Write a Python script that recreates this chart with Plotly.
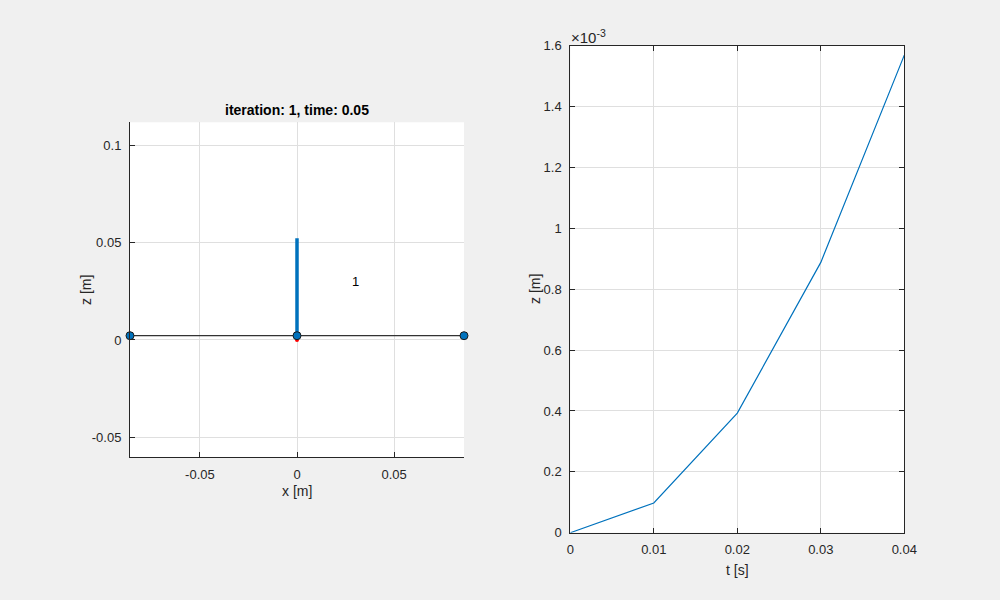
import plotly.graph_objects as go

# ---- data ----
beam_x = [-0.086, 0.0, 0.086]
beam_z = [0.0022, 0.0022, 0.0022]
bar_x = [0.0, 0.0]
bar_z = [0.0022, 0.0522]
red_x = [0.0]
red_z = [0.0]
label_text = "1"
label_pos = (0.03, 0.03)

t_s = [0.0, 0.01, 0.02, 0.03, 0.04]
z_m = [0.0, 0.0976e-3, 0.393e-3, 0.888e-3, 1.569e-3]

left_xticks = [-0.05, 0, 0.05]
left_xticklabels = ["-0.05", "0", "0.05"]
left_yticks = [-0.05, 0, 0.05, 0.1]
left_yticklabels = ["-0.05", "0", "0.05", "0.1"]
right_xticks = [0, 0.01, 0.02, 0.03, 0.04]
right_xticklabels = ["0", "0.01", "0.02", "0.03", "0.04"]
right_yticks = [0, 0.2e-3, 0.4e-3, 0.6e-3, 0.8e-3, 1.0e-3, 1.2e-3, 1.4e-3, 1.6e-3]
right_yticklabels = ["0", "0.2", "0.4", "0.6", "0.8", "1", "1.2", "1.4", "1.6"]

title_text = "iteration: 1, time: 0.05"

FONT = "Liberation Sans, Arial, sans-serif"
AX = "#262626"
GRID = "#DFDFDF"
BLUE = "#0072BD"

fig = go.Figure()

fig.add_trace(go.Scatter(x=bar_x, y=bar_z, mode="lines",
                         line=dict(color=BLUE, width=3.5),
                         xaxis="x", yaxis="y", showlegend=False, hoverinfo="skip"))
fig.add_trace(go.Scatter(x=red_x, y=red_z, mode="markers",
                         marker=dict(color="red", size=4),
                         xaxis="x", yaxis="y", showlegend=False, hoverinfo="skip"))
fig.add_trace(go.Scatter(x=beam_x, y=beam_z, mode="lines+markers",
                         line=dict(color="#333333", width=1.2),
                         marker=dict(color=BLUE, size=8, line=dict(color="#1a1a1a", width=1)),
                         cliponaxis=False,
                         xaxis="x", yaxis="y", showlegend=False, hoverinfo="skip"))
fig.add_trace(go.Scatter(x=t_s, y=z_m, mode="lines",
                         line=dict(color=BLUE, width=1.2),
                         xaxis="x2", yaxis="y2", showlegend=False, hoverinfo="skip"))

common = dict(showgrid=True, gridcolor=GRID, gridwidth=1, zeroline=False,
              showline=True, linecolor=AX, linewidth=1,
              ticks="inside", ticklen=5, tickcolor=AX, tickwidth=1,
              tickfont=dict(family=FONT, size=13, color=AX), ticklabelstandoff=5,
              automargin=False)

fig.update_layout(
    width=1000, height=600, autosize=False,
    paper_bgcolor="#F0F0F0", plot_bgcolor="white",
    margin=dict(l=0, r=0, t=0, b=0, pad=0),
    font=dict(family=FONT, size=13, color=AX),
    xaxis=dict(domain=[0.130, 0.464], range=[-0.086, 0.086], anchor="y",
               tickvals=left_xticks, ticktext=left_xticklabels, mirror=False, **common),
    yaxis=dict(domain=[1 - 457 / 600, 1 - 122.3 / 600], range=[-0.0601, 0.1118], anchor="x",
               tickvals=left_yticks, ticktext=left_yticklabels, mirror=False, **common),
    xaxis2=dict(domain=[0.5703, 0.9043], range=[0, 0.04], anchor="y2",
                tickvals=right_xticks, ticktext=right_xticklabels, mirror="ticks", **common),
    yaxis2=dict(domain=[1 - 532.7 / 600, 1 - 45.7 / 600], range=[0, 1.6e-3], anchor="x2",
                tickvals=right_yticks, ticktext=right_yticklabels, mirror="ticks", **common),
)


def pa(text, px, py, size=14, color=AX, angle=0, xanchor="center", bold=False):
    return dict(text=("<b>" + text + "</b>") if bold else text,
                x=px / 1000, y=1 - py / 600, xref="paper", yref="paper",
                xanchor=xanchor, yanchor="middle", showarrow=False, textangle=angle,
                font=dict(family=FONT, size=size, color=color))


ann = [
    dict(text=label_text, x=label_pos[0], y=label_pos[1], xref="x", yref="y",
         xanchor="center", yanchor="middle", showarrow=False,
         font=dict(family=FONT, size=13, color="black")),
    pa(title_text, 297, 110, size=14, color="black", bold=True),
    pa("x [m]", 297, 491),
    pa("z [m]", 86, 290, angle=-90),
    pa("t [s]", 737, 570),
    pa("z [m]", 535, 289, angle=-90),
    pa("×10<sup>-3</sup>", 569, 37, size=15, xanchor="left"),
]
fig.update_layout(annotations=ann)

fig.write_html("out.html", config={"displayModeBar": False},
               post_script="document.body.style.margin='0';document.body.style.overflow='hidden';")
